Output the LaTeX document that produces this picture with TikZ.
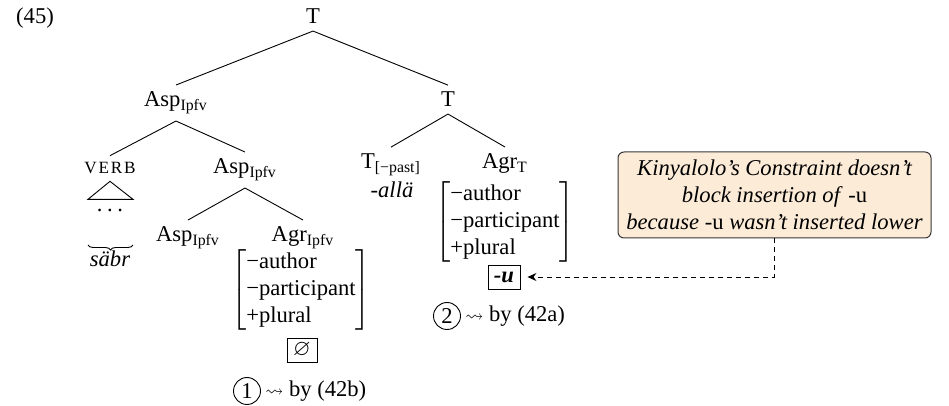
\documentclass[tikz,border=0pt]{standalone}
\usepackage{amssymb}
\usepackage{fontspec}
\setmainfont{Liberation Serif}
\usetikzlibrary{decorations.pathreplacing,arrows.meta}
\definecolor{notefill}{RGB}{251,235,215}
\definecolor{noteedge}{RGB}{55,55,55}
% feature bundle shared by both agreement nodes
\newcommand\featbundle{$\left[\begin{tabular}{@{}l@{}}−author\\−participant\\+plural\end{tabular}\right]$}
\begin{document}
\begin{tikzpicture}[x=0.5pt,y=-0.5pt,
  every node/.style={font=\fontsize{11.3}{13.7}\selectfont},
  lbl/.style={anchor=base, inner sep=0.3333em},
  edge/.style={line width=0.45pt},
  exbox/.style={draw, line width=0.45pt, inner sep=0pt, minimum width=15pt, minimum height=12pt},
  num/.style={draw, circle, inner sep=0pt, minimum size=13.5pt, line width=0.45pt},
  note/.style={draw=noteedge, fill=notefill, rounded corners=3pt, line width=0.5pt,
    align=center, minimum width=156.5pt, minimum height=43pt,
    font=\fontsize{11.3}{13.6}\selectfont\itshape}]
\useasboundingbox (0,0) rectangle (949,406);

% example number and tree labels
\node[lbl] (ex) at (35,24) {(45)};
\node[lbl] (T0) at (313,24) {T};
\node[lbl] (AspA) at (176,107) {Asp\textsubscript{Ipfv}};
\node[lbl] (T1) at (448,107) {T};
\node[lbl] (verb) at (110,174) {\fontsize{8.6}{10}\selectfont\addfontfeatures{LetterSpace=10}VERB};
\node[lbl] (AspB) at (245,174) {Asp\textsubscript{Ipfv}};
\node[lbl] (Tpast) at (391,169) {T\textsubscript{[−past]}};
\node[lbl] (AgrT) at (505,169) {Agr\textsubscript{T}};
\node[lbl] (AspC) at (188,242) {Asp\textsubscript{Ipfv}};
\node[lbl] (AgrI) at (303,242) {Agr\textsubscript{Ipfv}};

% branches
\draw[edge] (T0.south) -- (AspA.north);
\draw[edge] (T0.south) -- (T1.north);
\draw[edge] (AspA.south) -- (verb.north);
\draw[edge] (AspA.south) -- (AspB.north);
\draw[edge] (T1.south) -- (Tpast.north);
\draw[edge] (T1.south) -- (AgrT.north);
\draw[edge] (AspB.south) -- (AspC.north);
\draw[edge] (AspB.south) -- (AgrI.north);

% roof over the verb, its exponent
\draw[edge] (verb.south) -- ++(-22,18) -- ++(45,0) -- cycle;
\node[anchor=base, inner sep=0pt] (dots) at (110,212) {.\hspace{2.3pt}.\hspace{2.3pt}.};
\draw[edge, decorate, decoration={brace, mirror, amplitude=2.5pt}] (88,245) -- (133,245);
\node[anchor=base, inner sep=0pt] (sabr) at (110,267) {\textit{säbr}};

% tense exponent
\node[anchor=base, inner sep=0pt] (alla) at (392,198) {\textit{-allä}};

% feature bundles and inserted exponents
\node[inner sep=0pt] (mI) at (301,290) {\featbundle};
\node[inner sep=0pt] (mT) at (505,222) {\featbundle};
\node[exbox] (nul) at (302,350) {$\varnothing$};
\node[exbox, minimum width=16pt] (uu) at (504,277) {\textbf{\textit{-u}}};

% insertion steps
\node[num] (c1) at (247,391) {1};
\node[anchor=west, inner sep=2pt] (r1) at (c1.east) {\scalebox{0.8}{$\rightsquigarrow$} by (42b)};
\node[num] (c2) at (447,316) {2};
\node[anchor=west, inner sep=2pt] (r2) at (c2.east) {\scalebox{0.8}{$\rightsquigarrow$} by (42a)};

% annotation
\node[note] (note) at (774.5,195) {Kinyalolo’s Constraint doesn’t\\block insertion of \textup{-u}\\because \textup{-u} wasn’t inserted lower};
\draw[edge, dash pattern=on 2.5pt off 2pt, -{Stealth[length=4.5pt,width=4pt]}, shorten >=3.5pt]
  (note.south) |- (uu.east);
\end{tikzpicture}
\end{document}
